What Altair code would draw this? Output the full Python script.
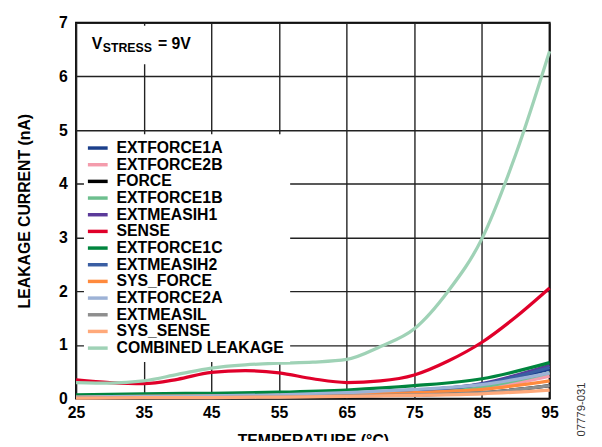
import altair as alt
import pandas as pd

# ---- data ----
temps_fine = [25, 30, 35, 40, 45, 50, 55, 60, 65, 70, 75, 80, 85, 90, 95]
temps_coarse = [25, 35, 45, 55, 65, 75, 85, 95]

series_order = [
    "EXTFORCE1A", "EXTFORCE2B", "FORCE", "EXTFORCE1B", "EXTMEASIH1", "SENSE",
    "EXTFORCE1C", "EXTMEASIH2", "SYS_FORCE", "EXTFORCE2A", "EXTMEASIL",
    "SYS_SENSE", "COMBINED LEAKAGE",
]
series_colors = [
    "#1b3f8b", "#f49cac", "#000000", "#6dbf8e", "#5b3a9a", "#e0002a",
    "#00853e", "#3a5ea3", "#ff8a3d", "#9db2d6", "#8e8e8e",
    "#ffa97a", "#9fd2b6",
]

combined = [0.30, 0.29, 0.33, 0.45, 0.57, 0.63, 0.66, 0.68, 0.73, 0.97, 1.30, 2.00, 2.98, 4.55, 6.47]
sense = [0.35, 0.30, 0.28, 0.36, 0.49, 0.52, 0.48, 0.37, 0.30, 0.33, 0.44, 0.70, 1.05, 1.52, 2.06]

extforce1a = [0.02, 0.03, 0.04, 0.05, 0.08, 0.14, 0.25, 0.55]
extforce2b = [0.02, 0.03, 0.03, 0.04, 0.06, 0.10, 0.18, 0.42]
force = [0.01, 0.02, 0.02, 0.03, 0.05, 0.07, 0.11, 0.24]
extforce1b = [0.02, 0.03, 0.04, 0.05, 0.07, 0.12, 0.22, 0.48]
extmeasih1 = [0.02, 0.03, 0.04, 0.05, 0.08, 0.15, 0.28, 0.62]
extforce1c = [0.07, 0.09, 0.10, 0.12, 0.16, 0.24, 0.37, 0.67]
extmeasih2 = [0.02, 0.03, 0.04, 0.05, 0.09, 0.15, 0.27, 0.58]
sys_force = [0.03, 0.04, 0.05, 0.06, 0.08, 0.11, 0.17, 0.33]
extforce2a = [0.03, 0.04, 0.05, 0.07, 0.11, 0.17, 0.26, 0.48]
extmeasil = [0.01, 0.02, 0.02, 0.03, 0.05, 0.07, 0.11, 0.24]
sys_sense = [0.01, 0.02, 0.02, 0.03, 0.04, 0.06, 0.09, 0.16]

x_ticks = [25, 35, 45, 55, 65, 75, 85, 95]
y_ticks = [0, 1, 2, 3, 4, 5, 6, 7]
annot_v = ["V"]
annot_sub = ["STRESS"]
annot_rest = ["= 9V"]
fig_id = ["07779-031"]

series_values = {
    "EXTFORCE1A": (temps_coarse, extforce1a),
    "EXTFORCE2B": (temps_coarse, extforce2b),
    "FORCE": (temps_coarse, force),
    "EXTFORCE1B": (temps_coarse, extforce1b),
    "EXTMEASIH1": (temps_coarse, extmeasih1),
    "SENSE": (temps_fine, sense),
    "EXTFORCE1C": (temps_coarse, extforce1c),
    "EXTMEASIH2": (temps_coarse, extmeasih2),
    "SYS_FORCE": (temps_coarse, sys_force),
    "EXTFORCE2A": (temps_coarse, extforce2a),
    "EXTMEASIL": (temps_coarse, extmeasil),
    "SYS_SENSE": (temps_coarse, sys_sense),
    "COMBINED LEAKAGE": (temps_fine, combined),
}

rows = []
for name in series_order:
    ts, vs = series_values[name]
    for t, v in zip(ts, vs):
        rows.append({"T": t, "I": v, "Series": name})
df = pd.DataFrame(rows)

FONT = "Liberation Sans"

lines = alt.Chart(df).mark_line(strokeWidth=3.3, interpolate="monotone").encode(
    x=alt.X("T:Q", scale=alt.Scale(domain=[25, 95], nice=False),
            axis=alt.Axis(values=x_ticks, title="TEMPERATURE (°C)", labelFlush=False,
                          labelFontSize=16, labelFontWeight="bold", labelColor="black",
                          titleFontSize=16, titleFontWeight="bold", titleColor="black",
                          grid=True, gridColor="#222222", gridWidth=1.4,
                          ticks=False, domain=False, labelPadding=6, titlePadding=13)),
    y=alt.Y("I:Q", scale=alt.Scale(domain=[0, 7], nice=False),
            axis=alt.Axis(values=y_ticks, title="LEAKAGE CURRENT (nA)",
                          labelFontSize=16, labelFontWeight="bold", labelColor="black",
                          titleFontSize=16, titleFontWeight="bold", titleColor="black",
                          grid=True, gridColor="#222222", gridWidth=1.4,
                          ticks=False, domain=False, labelPadding=9, titlePadding=26)),
    color=alt.Color("Series:N", scale=alt.Scale(domain=series_order, range=series_colors),
                    legend=alt.Legend(orient="none", legendX=8, legendY=113, fillColor="white",
                                      padding=6, title=None, labelFontSize=16,
                                      labelFontWeight="bold", labelColor="black",
                                      labelLimit=300,
                                      symbolType="M-1.67,0L1.67,0", symbolSize=144,
                                      symbolStrokeWidth=3.5, rowPadding=0.9, labelOffset=11)),
    detail="Series:N",
)

one = pd.DataFrame({"a": [0]})
box = alt.Chart(one).mark_rect(color="white").encode(
    x=alt.value(8), x2=alt.value(125), y=alt.value(3), y2=alt.value(42))

t_v = alt.Chart(pd.DataFrame({"t": annot_v})).mark_text(
    align="left", baseline="alphabetic", fontSize=16, fontWeight="bold", color="black"
).encode(x=alt.value(16), y=alt.value(27), text="t:N")
t_sub = alt.Chart(pd.DataFrame({"t": annot_sub})).mark_text(
    align="left", baseline="alphabetic", fontSize=12.5, fontWeight="bold", color="black"
).encode(x=alt.value(27), y=alt.value(30), text="t:N")
t_rest = alt.Chart(pd.DataFrame({"t": annot_rest})).mark_text(
    align="left", baseline="alphabetic", fontSize=16, fontWeight="bold", color="black"
).encode(x=alt.value(83), y=alt.value(27), text="t:N")
t_id = alt.Chart(pd.DataFrame({"t": fig_id})).mark_text(
    align="center", baseline="middle", fontSize=11.5, angle=270, color="#333333"
).encode(x=alt.value(513), y=alt.value(392), text="t:N")

chart = alt.layer(lines, box, t_v, t_sub, t_rest, t_id).properties(
    width=480, height=381,
    padding={"left": 69, "top": 12, "right": 45, "bottom": 40},
    autosize=alt.AutoSizeParams(type="none"),
).configure(font=FONT).configure_view(stroke="black", strokeWidth=2)

chart.save("out.html", embed_options={"renderer": "svg", "actions": False})
